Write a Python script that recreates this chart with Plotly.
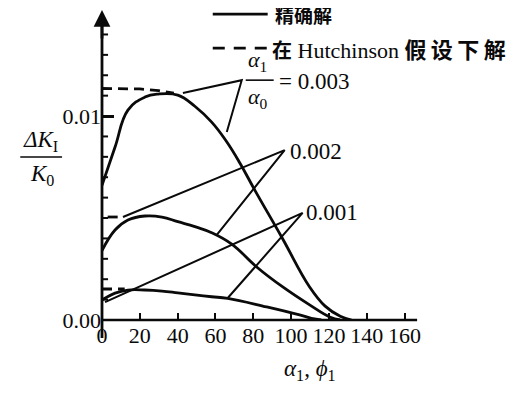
import plotly.graph_objects as go

# ---- data ----
x_exact_003 = [0, 6.9, 13.7, 22.7, 29.6, 40.1, 49.1, 58.0, 65.5, 72.9, 80.8, 95.0, 109.8, 118, 126, 132]
y_exact_003 = [0.0066, 0.00848, 0.01029, 0.01093, 0.01108, 0.01103, 0.01048, 0.00970, 0.00880, 0.0077,
               0.00637, 0.00407, 0.00162, 0.00068, 0.00018, 0.0]
x_hut_003 = [0, 10, 20, 30, 38]
y_hut_003 = [0.01135, 0.01135, 0.01133, 0.01125, 0.01112]

x_exact_002 = [0, 6.9, 13.7, 22.7, 31.7, 40.1, 49.1, 58.0, 68.6, 81.8, 95.6, 109.8, 120.4, 126]
y_exact_002 = [0.0034, 0.00441, 0.0049, 0.0051, 0.00505, 0.00482, 0.00458, 0.00428, 0.00372, 0.0026,
               0.00162, 0.00074, 0.00015, 0.0]
x_hut_002 = [3, 11]
y_hut_002 = [0.00505, 0.00505]

x_exact_001 = [0, 6.9, 13.7, 22.7, 31.7, 40.1, 49.1, 58.0, 66.5, 87.1, 104.5, 112.4, 116]
y_exact_001 = [0.00098, 0.00132, 0.00147, 0.00147, 0.00142, 0.00133, 0.00123, 0.00114, 0.00106,
               0.00064, 0.00025, 0.00005, 0.0]
x_hut_001 = [0, 12]
y_hut_001 = [0.00152, 0.00152]

# leader lines: [start, label point, end]
lead_003_x = [42.8, 73.9, 66.0]
lead_003_y = [0.01113, 0.01176, 0.00922]
lead_002_x = [11.1, 96.6, 60.7]
lead_002_y = [0.00505, 0.00833, 0.00417]
lead_001_x = [1.6, 106.1, 66.5]
lead_001_y = [0.00088, 0.00525, 0.00108]

x_ticks = [0, 20, 40, 60, 80, 100, 120, 140, 160]
y_ticks = [0.0, 0.01]
y_minor = [0.001 * i for i in range(1, 15) if i != 10]

SERIF = "Liberation Serif"
CJK = "Noto Sans CJK SC"
BLACK = "#0a0a0a"

fig = go.Figure()
solid = dict(color=BLACK, width=2.8, shape="spline", smoothing=1.2)
dash = dict(color=BLACK, width=2.8, dash="10px,6px")
for xs, ys in [(x_exact_003, y_exact_003), (x_exact_002, y_exact_002), (x_exact_001, y_exact_001)]:
    fig.add_trace(go.Scatter(x=xs, y=ys, mode="lines", line=solid, showlegend=False, hoverinfo="skip"))
for xs, ys in [(x_hut_003, y_hut_003), (x_hut_002, y_hut_002), (x_hut_001, y_hut_001)]:
    fig.add_trace(go.Scatter(x=xs, y=ys, mode="lines", line=dash, showlegend=False, hoverinfo="skip"))
for xs, ys in [(lead_003_x, lead_003_y), (lead_002_x, lead_002_y), (lead_001_x, lead_001_y)]:
    fig.add_trace(go.Scatter(x=xs, y=ys, mode="lines", line=dict(color=BLACK, width=2.0),
                             showlegend=False, hoverinfo="skip"))

# minor ticks on the y axis (short inward marks)
fig.add_trace(go.Scatter(x=[v for y in y_minor for v in (0, 3.2, None)],
                         y=[v for y in y_minor for v in (y, y, None)],
                         mode="lines", line=dict(color=BLACK, width=2), showlegend=False, hoverinfo="skip"))

TICKFONT = dict(family=SERIF, size=22, color=BLACK)
fig.update_layout(
    width=515, height=386,
    margin=dict(l=94, r=108.5, t=2, b=74),
    paper_bgcolor="white", plot_bgcolor="white",
    font=dict(family=SERIF, size=22, color=BLACK),
    xaxis=dict(range=[0, 165], tickvals=x_ticks, ticktext=[str(v) for v in x_ticks],
               ticks="inside", ticklen=7, tickwidth=2, tickcolor=BLACK,
               showgrid=False, zeroline=False, showline=False, tickfont=TICKFONT),
    yaxis=dict(range=[0, 0.0152], tickvals=y_ticks, ticktext=["0.00", "0.01"],
               ticks="inside", ticklen=12, tickwidth=2.5, tickcolor=BLACK,
               showgrid=False, zeroline=False, showline=False, tickfont=TICKFONT),
)

# axis lines
fig.add_shape(type="line", xref="paper", yref="paper", x0=0, x1=1.01, y0=0, y1=0,
              line=dict(color=BLACK, width=2.5))
fig.add_shape(type="line", xref="paper", yref="paper", x0=0, x1=0, y0=-0.058, y1=0.95,
              line=dict(color=BLACK, width=2.8))
fig.add_annotation(xref="paper", yref="paper", x=0, y=1.0, ax=0, ay=30, showarrow=True,
                   arrowhead=2, arrowsize=1.2, arrowwidth=2.8, arrowcolor=BLACK, text="")

# legend
fig.add_shape(type="line", xref="paper", yref="paper", x0=0.355, x1=0.531, y0=0.987, y1=0.987,
              line=dict(color=BLACK, width=2.8))
fig.add_shape(type="line", xref="paper", yref="paper", x0=0.355, x1=0.528, y0=0.877, y1=0.877,
              line=dict(color=BLACK, width=2.8, dash="12px,9px"))
fig.add_annotation(xref="paper", yref="paper", x=0.548, y=0.987, xanchor="left", yanchor="middle",
                   showarrow=False, text="精确解", font=dict(family=CJK, size=19, color=BLACK, weight="bold"))
fig.add_annotation(xref="paper", yref="paper", x=0.54, y=0.877, xanchor="left", yanchor="middle",
                   showarrow=False,
                   text="<span style='font-family:Noto Sans CJK SC;font-weight:bold;font-size:20px'>在</span> "
                        "Hutchinson "
                        "<span style='font-family:Noto Sans CJK SC;font-weight:bold'>假\u2009设\u2009下\u2009解</span>",
                   font=dict(family=SERIF, size=22, color=BLACK))

# curve labels
fig.add_annotation(x=82.4, y=0.0127, xanchor="center", yanchor="middle", showarrow=False,
                   text="<i>α</i><sub>1</sub>", font=dict(family=SERIF, size=22))
fig.add_shape(type="line", x0=76, x1=90.8, y0=0.01176, y1=0.01176, line=dict(color=BLACK, width=1.6))
fig.add_annotation(x=82.4, y=0.0109, xanchor="center", yanchor="middle", showarrow=False,
                   text="<i>α</i><sub>0</sub>", font=dict(family=SERIF, size=22))
fig.add_annotation(x=92.5, y=0.01168, xanchor="left", yanchor="middle", showarrow=False,
                   text="= 0.003", font=dict(family=SERIF, size=23))
fig.add_annotation(x=98.5, y=0.00824, xanchor="left", yanchor="middle", showarrow=False,
                   text="0.002", font=dict(family=SERIF, size=23))
fig.add_annotation(x=107, y=0.00525, xanchor="left", yanchor="middle", showarrow=False,
                   text="0.001", font=dict(family=SERIF, size=23))

# axis titles
fig.add_annotation(xref="paper", yref="paper", x=-0.198, y=0.578, xanchor="center", yanchor="middle",
                   showarrow=False, text="<i>ΔK</i><sub>I</sub>", font=dict(family=SERIF, size=23))
fig.add_shape(type="line", xref="paper", yref="paper", x0=-0.262, x1=-0.128, y0=0.526, y1=0.526,
              line=dict(color=BLACK, width=1.6))
fig.add_annotation(xref="paper", yref="paper", x=-0.192, y=0.468, xanchor="center", yanchor="middle",
                   showarrow=False, text="<i>K</i><sub>0</sub>", font=dict(family=SERIF, size=23))
fig.add_annotation(xref="paper", yref="paper", x=0.666, y=-0.16, xanchor="center", yanchor="middle",
                   showarrow=False, text="<i>α</i><sub>1</sub>, <i>ϕ</i><sub>1</sub>",
                   font=dict(family=SERIF, size=23))

fig.write_html("out.html")
